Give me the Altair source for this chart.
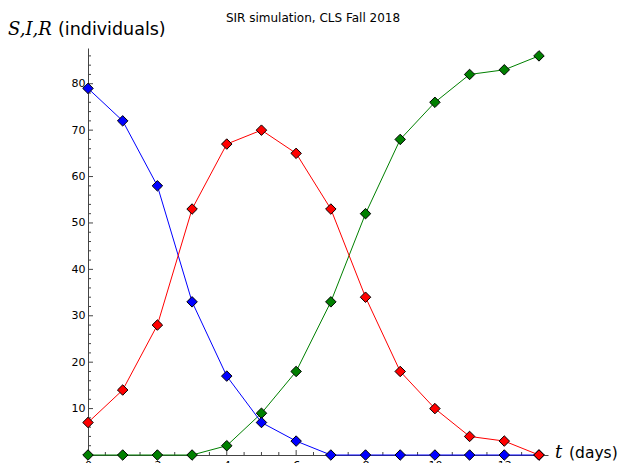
import altair as alt
import pandas as pd

days = list(range(14))
S = [79, 72, 58, 33, 17, 7, 3, 0, 0, 0, 0, 0, 0, 0]
I = [7, 14, 28, 53, 67, 70, 65, 53, 34, 18, 10, 4, 3, 0]
R = [0, 0, 0, 0, 2, 9, 18, 33, 52, 68, 76, 82, 83, 86]

x_major = [0, 2, 4, 6, 8, 10, 12]
x_minor = [0.5 * k for k in range(1, 27) if k % 4 != 0]
y_major = [10, 20, 30, 40, 50, 60, 70, 80]
y_minor = [2 * k for k in range(1, 44) if (2 * k) % 10 != 0]

W, H = 460, 407
AX = "#444444"
xs = alt.Scale(domain=[0, 13.26], nice=False, zero=False)
ys = alt.Scale(domain=[0, 87.7], nice=False, zero=False)

XAX = alt.Axis(values=x_major, ticks=False, grid=False, domainColor=AX,
               domainWidth=1, labelFontSize=11, labelPadding=4,
               labelColor="black", labelFont="DejaVu Sans", title=None,
               format="d", labelFlush=False)
YAX = alt.Axis(values=y_major, ticks=False, grid=False, domainColor=AX,
               domainWidth=1, labelFontSize=11, labelPadding=3,
               labelColor="black", labelFont="DejaVu Sans", title=None,
               format="d")

one = pd.DataFrame({"a": [0]})


def series(vals, color):
    df = pd.DataFrame({"t": days, "v": vals})
    base = alt.Chart(df).encode(
        x=alt.X("t:Q", scale=xs, axis=XAX),
        y=alt.Y("v:Q", scale=ys, axis=YAX),
    )
    line = base.mark_line(color=color, strokeWidth=1)
    pts = base.mark_point(shape="diamond", filled=True, fill=color, size=110,
                          stroke="black", strokeWidth=1, opacity=1)
    return [line, pts]


def yticks(vals, length):
    return alt.Chart(pd.DataFrame({"v": vals})).mark_rule(color=AX, strokeWidth=1).encode(
        y=alt.Y("v:Q", scale=ys, axis=YAX), x=alt.value(0), x2=alt.value(length))


def xticks(vals, length):
    return alt.Chart(pd.DataFrame({"v": vals})).mark_rule(color=AX, strokeWidth=1).encode(
        x=alt.X("v:Q", scale=xs, axis=XAX), y=alt.value(H), y2=alt.value(H - length))


def label(text, x, y, font, size, style="normal", align="left"):
    return alt.Chart(one).mark_text(text=text, font=font, fontSize=size, fontStyle=style,
                                    align=align, baseline="alphabetic", color="black").encode(
        x=alt.value(x), y=alt.value(y))


layers = []
layers += [yticks(y_major, 5), yticks(y_minor, 3), xticks(x_major, 5), xticks(x_minor, 3)]
layers += series(R, "#008000")
layers += series(S, "#0000ff")
layers += series(I, "#ff0000")
layers += [
    label("SIR simulation, CLS Fall 2018", 225, -26, "DejaVu Sans", 12, align="center"),
    label("S,I,R", -80, -13, "DejaVu Serif", 18, style="italic"),
    label("(individuals)", -30, -13, "DejaVu Sans", 17.5),
    label("t", 467, 410, "DejaVu Serif", 18, style="italic"),
    label("(days)", 481, 410, "DejaVu Sans", 15.5),
]

chart = alt.layer(*layers).properties(
    width=W, height=H,
    autosize=alt.AutoSizeParams(type="none"),
    padding={"left": 80, "top": 40, "right": 70, "bottom": 20},
).configure_view(stroke=None)

chart.save("out.html", embed_options={"renderer": "svg", "actions": False})
